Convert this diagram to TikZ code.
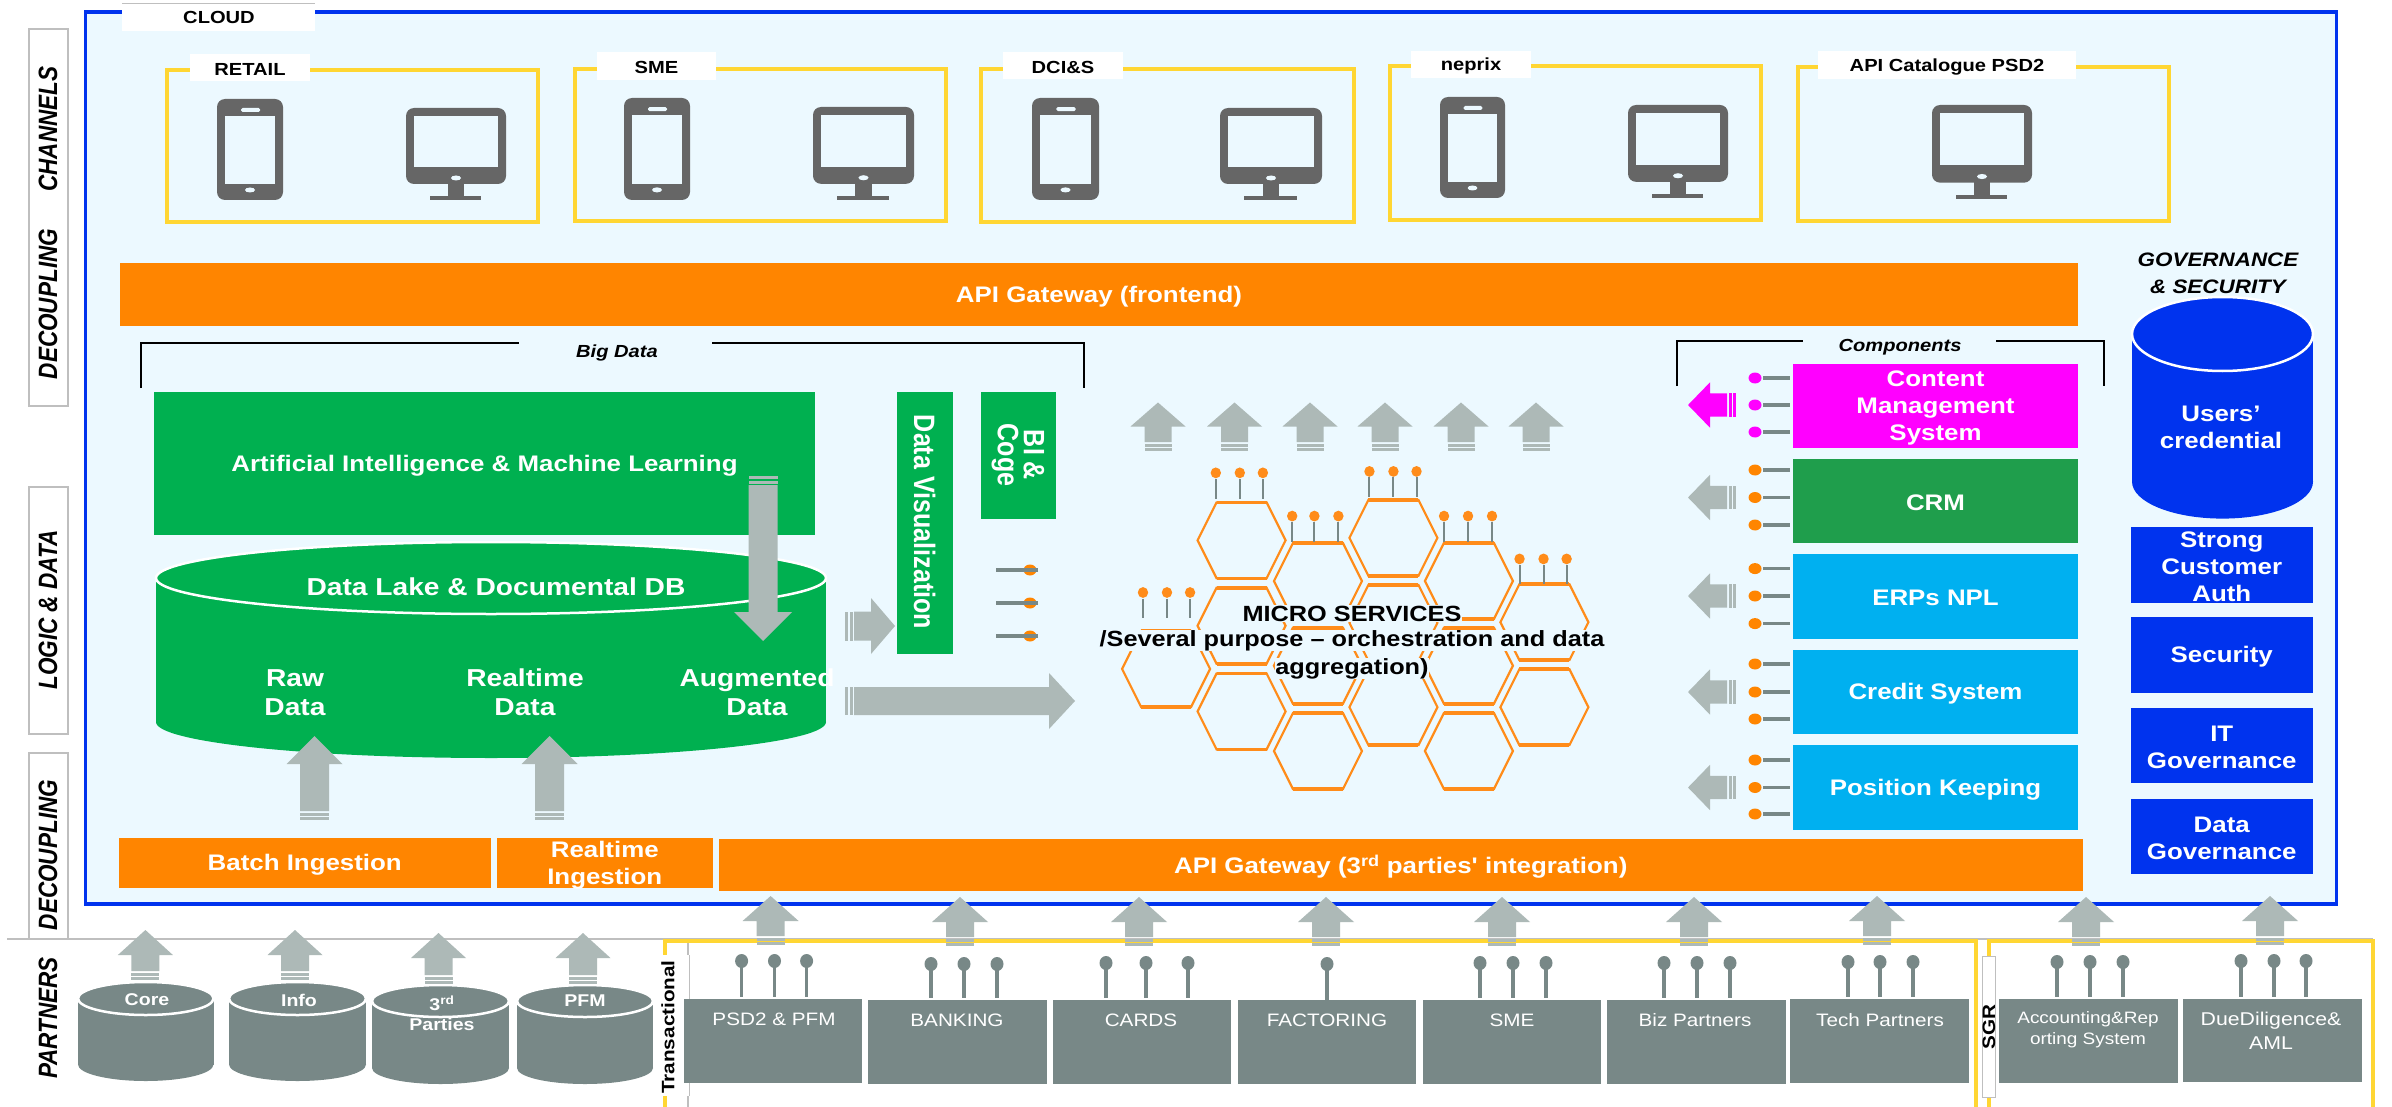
\documentclass[tikz,border=0pt]{standalone}
\usepackage{fontspec}
\newfontfamily\hf[FakeStretch=1.15]{Liberation Sans}
\newfontfamily\rfA[FakeStretch=0.85]{Liberation Sans}
\definecolor{pale}{HTML}{ECF9FF}
\definecolor{framec}{HTML}{0033EE}
\definecolor{yel}{HTML}{FFD633}
\definecolor{org}{HTML}{FF8500}
\definecolor{grn}{HTML}{00B050}
\definecolor{crm}{HTML}{1F9E4C}
\definecolor{cya}{HTML}{00B0F0}
\definecolor{mag}{HTML}{FF00FF}
\definecolor{arr}{HTML}{ADB9B7}
\definecolor{slate}{HTML}{788887}
\definecolor{icon}{HTML}{666666}
\definecolor{edge}{HTML}{BFBFBF}
\definecolor{hexc}{HTML}{FF8C1A}
\tikzset{
  wb/.style={font=\hf\bfseries\fontsize{22.5}{27}\selectfont,text=white,align=center,inner sep=0pt},
  wbig/.style={font=\hf\bfseries\fontsize{24.5}{29}\selectfont,text=white,align=center,inner sep=0pt},
  lbl/.style={font=\hf\bfseries\fontsize{17.5}{20}\selectfont,text=black,align=center,inner sep=0pt},
  ilbl/.style={font=\hf\bfseries\itshape\fontsize{17.5}{20}\selectfont,text=black,align=center,inner sep=0pt},
  gt/.style={font=\hf\fontsize{18}{22}\selectfont,text=white,align=center,inner sep=0pt},
  cyt/.style={font=\hf\bfseries\fontsize{17}{21}\selectfont,text=white,align=center,inner sep=0pt},
  side/.style={font=\rfA\bfseries\itshape\fontsize{26.5}{30}\selectfont,text=black,rotate=90,inner sep=0pt},
  sidebox/.style={fill=white,draw=edge,line width=1.2pt},
  vert/.style={font=\rfA\bfseries\fontsize{29.5}{26}\selectfont,text=white,rotate=-90,inner sep=0pt,align=center},
  ybox/.style={draw=yel,line width=3.5pt},
  tabw/.style={fill=white,inner sep=0pt},
  stemline/.style={draw=slate,line width=3.2pt},
  bracket/.style={draw=black,line width=2pt},
  micro/.style={font=\hf\bfseries\fontsize{22}{26}\selectfont,text=black,fill=pale,inner sep=0.5pt},
}
% rectangle node: name, x1,y1,x2,y2, style, text
\newcommand\bx[7]{\pgfmathsetmacro\cxx{(#2+#4)/2}\pgfmathsetmacro\cyy{(#3+#5)/2}\pgfmathsetmacro\cyt{\cyy+1.8}%
  \node[#6,minimum width={(#4-#2)*1pt},minimum height={(#5-#3)*1pt},inner sep=0pt,anchor=center] (#1) at (\cxx,\cyy) {};
  \node[#6,fill=none,draw=none,inner sep=0pt] (#1t) at (\cxx,\cyt) {#7};}
% block arrow: tipx,tipy,rotation,headlen,headhalf,shafthalf,total length,colour
\newcommand\blockarrow[8]{\pgfmathsetmacro\la{#7-9}\pgfmathsetmacro\lb{#7-7.5}\pgfmathsetmacro\lc{#7-4.5}\pgfmathsetmacro\ld{#7-3}%
  \begin{scope}[shift={(#1,#2)},rotate=#3]
    \fill[#8] (0,0) -- (#5,#4) -- (#6,#4) -- (#6,\la) -- (-#6,\la) -- (-#6,#4) -- (-#5,#4) -- cycle;
    \fill[#8] (-#6,\lb) rectangle (#6,\lc);
    \fill[#8] (-#6,\ld) rectangle (#6,#7);
  \end{scope}}
\newcommand\phoneicon[4]{\begin{scope}[shift={(#1,#2)},xscale={(#3-#1)/66},yscale={(#4-#2)/101}]
  \fill[icon,rounded corners=8pt] (0,0) rectangle (66,101);
  \fill[pale] (8,17) rectangle (58,85);
  \fill[pale,rounded corners=1.5pt] (24,9) rectangle (43,13);
  \fill[pale] (33,91) ellipse [x radius=5,y radius=2.5];
\end{scope}}
\newcommand\moni[4]{\begin{scope}[shift={(#1,#2)},xscale={(#3-#1)/100},yscale={(#4-#2)/92}]
  \fill[icon,rounded corners=8pt] (0,0) rectangle (100,76);
  \fill[pale] (8,8) rectangle (92,59);
  \fill[pale] (50,70) ellipse [x radius=5,y radius=2.5];
  \fill[icon] (42,75) rectangle (58,89);
  \fill[icon] (24,88) rectangle (75,92);
\end{scope}}
% cylinder: x1,ytop,x2,y ellipse bottom,y bottom,colour
\newcommand\cyl[6]{\pgfmathsetmacro\cm{(#1+#3)/2}\pgfmathsetmacro\ry{(#4-#2)/2}\pgfmathsetmacro\yc{(#4+#2)/2}\pgfmathsetmacro\rx{(#3-#1)/2}\pgfmathsetmacro\yl{#5-\ry}%
  \fill[#6] (#1,\yc) rectangle (#3,\yl);
  \fill[#6] (\cm,\yl) ellipse [x radius=\rx,y radius=\ry];
  \fill[#6,draw=white,line width=2.5pt] (\cm,\yc) ellipse [x radius=\rx,y radius=\ry];}
% horizontal pin: y, ball x, line end x, ball colour
\newcommand\hpin[4]{\fill[#4] (#2,#1) ellipse [x radius=6.5,y radius=5.5];
  \pgfmathsetmacro\ls{#2+8}\draw[stemline] (\ls,#1) -- (#3,#1);}
% vertical pin: x, ball y, line end y
\newcommand\vpin[3]{\pgfmathsetmacro\ls{#2+5}\draw[stemline,line width=3.2pt] (#1,\ls) -- (#1,#3);
  \fill[slate] (#1,#2) ellipse [x radius=6.5,y radius=7];}
\begin{document}
\begin{tikzpicture}[x=1pt,y=-1pt]
\useasboundingbox (0,0) rectangle (2392,1107);
\fill[white] (0,0) rectangle (2392,1107);
% left label boxes
\draw[edge,line width=1.5pt] (7,939) -- (2373,939);
\draw[sidebox] (29,29) rectangle (68,406);
\draw[sidebox] (29,487) rectangle (68,734);
\draw[sidebox] (29,753) rectangle (68,939);
\node[side] (sChannels) at (48,129) {CHANNELS};
\node[side] (sDec1) at (48,304) {DECOUPLING};
\node[side] (sLogic) at (48,610) {LOGIC \& DATA};
\node[side] (sDec2) at (48,855) {DECOUPLING};
\node[side] (sPart) at (48,1018) {PARTNERS};
% cloud frame
\draw[framec,fill=pale,line width=3.5pt] (85.5,12) rectangle (2336.5,904);
\node[tabw,minimum width=193pt,minimum height=28pt] (cloudtab) at (218.5,17) {};
\draw[edge,line width=1.2pt] (122,3.5) -- (315,3.5);
\node[lbl] (cloud) at (219,17) {CLOUD};
% channels
\draw[ybox] (167,70) rectangle (538,222);
\draw[ybox] (575,69) rectangle (946,221);
\draw[ybox] (981,69) rectangle (1354,222);
\draw[ybox] (1390,66) rectangle (1761,220);
\draw[ybox] (1798,67) rectangle (2169,221);
\bx{tRetail}{190}{54}{310}{81}{tabw,lbl}{RETAIL}
\bx{tSme}{597}{52}{716}{80}{tabw,lbl}{SME}
\bx{tDci}{1003}{52}{1123}{79}{tabw,lbl}{DCI\&S}
\bx{tNep}{1411}{51}{1531}{78}{tabw,lbl}{neprix}
\bx{tCat}{1818}{51}{2076}{79}{tabw,lbl}{API Catalogue PSD2}
\phoneicon{217}{99}{283}{200}\moni{406}{108}{506}{200}
\phoneicon{624}{98}{690}{200}\moni{813}{107}{914}{200}
\phoneicon{1032}{98}{1099}{200}\moni{1220}{108}{1322}{200}
\phoneicon{1440}{97}{1505}{198}\moni{1628}{105}{1728}{198}
\moni{1932}{105}{2032}{199}
% top gateway
\bx{gwFront}{120}{263}{2078}{326}{fill=org,wb}{API Gateway (frontend)}
% brackets
\draw[bracket] (141,388) -- (141,343) -- (1084,343) -- (1084,388);
\bx{tBig}{519}{331}{712}{365}{fill=pale,ilbl}{}
\node[ilbl] (bigdata) at (617,352.5) {Big Data};
\draw[bracket] (1677,386) -- (1677,341) -- (2104,341) -- (2104,386);
\bx{tComp}{1803}{330}{1996}{358}{fill=pale,ilbl}{}
\node[ilbl] (comps) at (1900,347) {Components};
% big data
\bx{aiml}{154}{392}{815}{535}{fill=grn,wb}{Artificial Intelligence \& Machine Learning}
\cyl{156}{542}{826}{614}{758}{grn}
\node[wbig] (lake) at (496,587) {Data Lake \& Documental DB};
\node[wbig] (raw) at (295,693) {Raw\\Data};
\node[wbig] (rtd) at (525,692) {Realtime\\Data};
\node[wbig] (augd) at (757,692) {Augmented\\Data};
\blockarrow{763}{641}{180}{29}{29}{14.5}{165}{arr}
\bx{dataviz}{896.5}{392}{953}{654}{fill=grn}{}
\node[vert] (datavizt) at (924.6,522) {Data Visualization};
\bx{bicoge}{981}{392}{1056}{519}{fill=grn}{}
\node[vert] (bicoget) at (1018,455) {BI \&\\Coge};
\hpin{570}{1030}{996}{org}\hpin{603}{1030}{996}{org}\hpin{636}{1030}{996}{org}
\blockarrow{895}{626}{-90}{24}{28}{14.5}{50}{arr}
\blockarrow{1075}{701}{-90}{26}{28}{14}{230}{arr}
\blockarrow{314.5}{736}{0}{28}{28}{14.5}{84}{arr}
\blockarrow{549.5}{736}{0}{28}{28}{14.5}{84}{arr}
% micro services
\foreach \hx/\hy in {187/921,272/561,272/800,272/1040,358/675,358/912,358/1151,443/554,443/792,443/1028,528/675,528/912,528/1151,613/790,613/1028}{
  \pgfmathsetmacro\px{1000+\hx/1.126}\pgfmathsetmacro\py{340+\hy/2.8}
  \draw[hexc,line width=2.2pt,line join=miter] ({\px-44},\py) -- ({\px-25},{\py-38}) -- ({\px+25},{\py-38}) -- ({\px+44},\py) -- ({\px+25},{\py+38}) -- ({\px-25},{\py+38}) -- cycle;
  \draw[hexc,line width=3.6pt] ({\px-25},{\py-38}) -- ({\px+25},{\py-38}) ({\px-25},{\py+38}) -- ({\px+25},{\py+38});
}
\foreach \a/\b/\c/\yy/\ye in {243/270/296/372/445,329/354/381/493/565,416/443/469/368/440,500/527/554/493/565,585/612/638/613/683,161/188/214/707/778}{
  \foreach \q in {\a,\b,\c}{
    \pgfmathsetmacro\px{1000+\q/1.126}\pgfmathsetmacro\pa{340+\yy/2.8}\pgfmathsetmacro\pb{340+\ye/2.8}
    \draw[slate,line width=2pt] (\px,{\pa+6}) -- (\px,\pb);
    \fill[hexc] (\px,\pa) ellipse [x radius=5.2,y radius=5.4];
  }
}
\foreach \ax in {1158,1234.5,1310,1385,1461,1536}{\blockarrow{\ax}{402.5}{0}{24}{27.5}{13.5}{48.5}{arr}}
\node[micro] (ms1) at (1352,613.5) {MICRO SERVICES};
\node[micro] (ms2) at (1352,640.5) {/Several purpose – orchestration and data};
\node[micro] (ms3) at (1352,668.5) {aggregation)};
% components
\bx{cms}{1793}{364}{2078}{448}{fill=mag,wb}{Content\\Management\\System}
\bx{crmb}{1793}{459}{2078}{543}{fill=crm,wb}{CRM}
\bx{erp}{1793}{554}{2078}{639}{fill=cya,wb}{ERPs NPL}
\bx{credit}{1793}{650}{2078}{734}{fill=cya,wb}{Credit System}
\bx{posk}{1793}{745}{2078}{830}{fill=cya,wb}{Position Keeping}
\hpin{378}{1755}{1790}{mag}\hpin{405}{1755}{1790}{mag}\hpin{432}{1755}{1790}{mag}
\foreach \yy in {470,497.5,525,568.6,596,623.6,664,692,719,760,787.5,814}{\hpin{\yy}{1755}{1790}{org}}
\blockarrow{1688}{405}{90}{22}{22.7}{11.7}{48}{mag}
\foreach \yy in {497.5,596,692,787.5}{\blockarrow{1688}{\yy}{90}{22}{22.7}{11.7}{48}{arr}}
% governance
\node[font=\hf\bfseries\itshape\fontsize{19.5}{27}\selectfont,align=center,inner sep=0pt] (gov) at (2218,273) {GOVERNANCE\\\&~SECURITY};
\cyl{2132}{297}{2313}{371}{518.6}{framec}
\node[wb] (users) at (2221,427) {Users’\\credential};
\bx{sca}{2130.5}{527}{2313}{602.5}{fill=framec,wb}{Strong\\Customer\\Auth}
\bx{secu}{2130.5}{617}{2313}{692.5}{fill=framec,wb}{Security}
\bx{itg}{2130.5}{707.5}{2313}{783}{fill=framec,wb}{IT\\Governance}
\bx{dg}{2130.5}{798.5}{2313}{874}{fill=framec,wb}{Data\\Governance}
% bottom gateways
\bx{batch}{119}{838}{490.5}{888}{fill=org,wb}{Batch Ingestion}
\bx{rtin}{497}{838}{712.5}{888}{fill=org,wb}{Realtime\\Ingestion}
\bx{gwInt}{718.5}{839}{2083}{891}{fill=org,wb}{API Gateway (3\textsuperscript{rd} parties' integration)}
% partners
\draw[yel,line width=3.5pt] (665,1107) -- (665,941) -- (1976,941) -- (1976,1107);
\draw[yel,line width=3.5pt] (1989,1107) -- (1989,941) -- (2373,941) -- (2373,1107);
\draw[edge,line width=1.2pt] (688,943) -- (688,1107);
\bx{tTrans}{663}{955}{689}{1096}{tabw}{}
\draw[edge,line width=1pt] (689,955) -- (689,1096);
\node[lbl,rotate=90,font=\hf\bfseries\fontsize{18}{20}\selectfont] (trans) at (668,1027) {Transactional};
\bx{tSgr}{1982}{956}{1995}{1097}{tabw,draw=edge,line width=1pt}{}
\node[lbl,rotate=90,font=\hf\bfseries\fontsize{18}{20}\selectfont] (sgr) at (1989,1027) {SGR};
\cyl{78}{982}{213.5}{1015}{1081}{slate}
\cyl{229}{982}{366}{1015}{1081}{slate}
\cyl{372}{985}{509}{1017}{1084}{slate}
\cyl{517}{985}{653}{1017}{1084}{slate}
\node[cyt] (core) at (147,1000) {Core};
\node[cyt] (info) at (299,1000) {Info};
\node[cyt] (third) at (442,1003) {3\textsuperscript{rd}};
\node[cyt] (parties) at (442,1024) {Parties};
\node[cyt] (pfm) at (585,1001) {PFM};
\bx{bPsd}{684}{999}{862}{1083}{fill=slate}{}
\bx{bBank}{868}{1000}{1047}{1084}{fill=slate}{}
\bx{bCards}{1053}{1000}{1231}{1084}{fill=slate}{}
\bx{bFact}{1238}{1000}{1416}{1084}{fill=slate}{}
\bx{bSme}{1423}{1000}{1601}{1084}{fill=slate}{}
\bx{bBiz}{1607}{1000}{1786}{1084}{fill=slate}{}
\bx{bTech}{1790}{999}{1969}{1083}{fill=slate}{}
\bx{bAcc}{1999}{999}{2178}{1083}{fill=slate}{}
\bx{bDue}{2183}{999}{2362}{1082}{fill=slate}{}
\node[gt] (lPsd) at (774,1019) {PSD2 \& PFM};
\node[gt] (lBank) at (957,1020) {BANKING};
\node[gt] (lCards) at (1141,1020) {CARDS};
\node[gt] (lFact) at (1327,1020) {FACTORING};
\node[gt] (lSme) at (1512,1020) {SME};
\node[gt] (lBiz) at (1695,1020) {Biz Partners};
\node[gt] (lTech) at (1880,1020) {Tech Partners};
\node[gt,font=\hf\fontsize{16.5}{21}\selectfont] (lAcc) at (2088,1030) {Accounting\&Rep\\orting System};
\node[gt,font=\hf\fontsize{18.5}{24}\selectfont] (lDue) at (2271,1031) {DueDiligence\&\\AML};
\foreach \q/\yy/\ye in {741.6/961/997,774.5/961/997,806.6/961/997,931/964/998,964/964/998,997/964/998,1106/963/998,1146/963/998,1188/963/998,1327/964/1000,1480/963/998,1513/963/998,1546/963/998,1664/963/998,1697/963/998,1730/963/998,1848/962/997,1880/962/997,1913/962/997,2057/962/997,2090/962/997,2123/962/997,2241/961/997,2274/961/997,2306/961/997}{\vpin{\q}{\yy}{\ye}}
% arrows from partners
\blockarrow{145.4}{930}{0}{25}{27.5}{14}{50}{arr}
\blockarrow{295}{930}{0}{25}{27.5}{14}{50}{arr}
\blockarrow{438.5}{933}{0}{25}{27.5}{14}{51}{arr}
\blockarrow{583}{933}{0}{25}{27.5}{14}{51}{arr}
\foreach \ax/\ay in {770.6/896,960/897,1139/897,1326/897,1502/897,1694/897,1877/896,2086/897,2270/896}{\blockarrow{\ax}{\ay}{0}{25}{28}{14}{49}{arr}}
\end{tikzpicture}
\end{document}
